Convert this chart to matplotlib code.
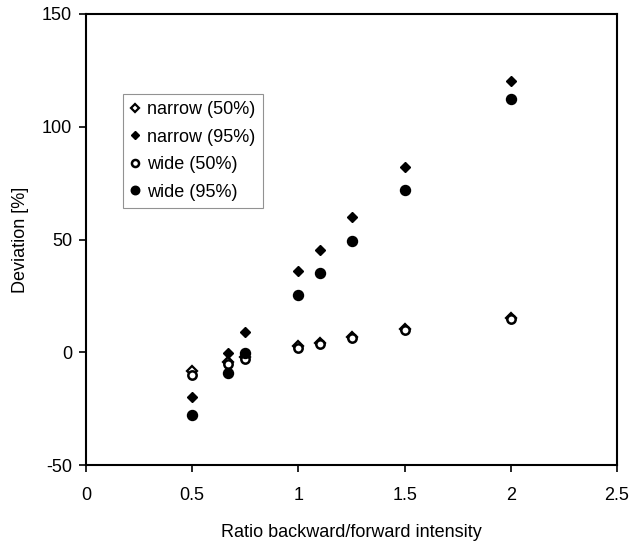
import matplotlib
matplotlib.use("Agg")
import matplotlib.pyplot as plt

plt.rcParams['font.family'] = ['Liberation Sans', 'DejaVu Sans']
plt.rcParams['axes.unicode_minus'] = False

ratio = [0.5, 0.67, 0.75, 1.0, 1.1, 1.25, 1.5, 2.0]
narrow_50 = [-8.5, -4.5, -2.0, 2.6, 4.3, 6.9, 10.2, 15.2]
narrow_95 = [-20.0, -0.4, 9.0, 35.9, 45.5, 59.9, 82.0, 120.4]
wide_50 = [-10.0, -5.0, -2.8, 2.0, 3.8, 6.4, 9.8, 14.8]
wide_95 = [-27.8, -9.3, -0.5, 25.4, 35.3, 49.3, 71.8, 112.2]

fig = plt.figure(figsize=(6.35, 5.42), dpi=100)
ax = fig.add_axes([86/635, 1-465/542, (617-86)/635, (465-14)/542])

ax.plot(ratio, narrow_50, linestyle='none', marker='D', markersize=5.0,
        markerfacecolor='white', markeredgecolor='black', markeredgewidth=1.6,
        label='narrow (50%)', zorder=3)
ax.plot(ratio, narrow_95, linestyle='none', marker='D', markersize=5.0,
        markerfacecolor='black', markeredgecolor='black', markeredgewidth=1.0,
        label='narrow (95%)', zorder=3)
ax.plot(ratio, wide_50, linestyle='none', marker='o', markersize=6.0,
        markerfacecolor='white', markeredgecolor='black', markeredgewidth=1.8,
        label='wide (50%)', zorder=3)
ax.plot(ratio, wide_95, linestyle='none', marker='o', markersize=7.2,
        markerfacecolor='black', markeredgecolor='black', markeredgewidth=1.0,
        label='wide (95%)', zorder=3)

ax.set_xlim(0, 2.5)
ax.set_ylim(-50, 150)
ax.set_xticks([0, 0.5, 1, 1.5, 2, 2.5])
ax.set_xticklabels(['0', '0.5', '1', '1.5', '2', '2.5'])
ax.set_yticks([-50, 0, 50, 100, 150])
ax.tick_params(axis='both', direction='out', length=5, width=1.2, labelsize=13,
               colors='black', pad=5)
ax.tick_params(axis='x', pad=11)
for s in ax.spines.values():
    s.set_linewidth(1.5)
    s.set_color('black')

ax.set_xlabel('Ratio backward/forward intensity', fontsize=13, labelpad=14)
ax.set_ylabel('Deviation [%]', fontsize=13, labelpad=9)

leg = ax.legend(loc='upper left', bbox_to_anchor=((123-86)/531, (465-94)/451),
                borderaxespad=0, frameon=True, fancybox=False, fontsize=13,
                handlelength=0.5, handletextpad=0.45, labelspacing=0.58,
                borderpad=0.4, markerscale=0.85)
leg.get_frame().set_edgecolor('#777777')
leg.get_frame().set_linewidth(0.8)

fig.savefig('out.png', dpi=100)
